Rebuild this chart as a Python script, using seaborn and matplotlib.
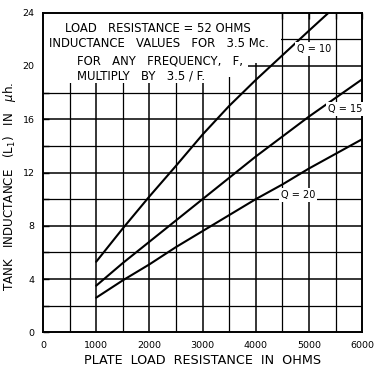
import numpy as np
import pandas as pd
import matplotlib
matplotlib.use("Agg")
import matplotlib.pyplot as plt
import seaborn as sns

# plate load resistance (ohms) and tank inductance (uH)
q10_x = [1000, 1500, 2000, 2500, 3000, 3500, 4000, 4500, 5000, 5370]
q10_y = [5.3, 7.8, 10.2, 12.5, 14.85, 17.0, 18.95, 20.8, 22.65, 24.0]
q15_x = [1000, 1500, 2000, 2500, 3000, 3500, 4000, 4500, 5000, 5500, 6000]
q15_y = [3.5, 5.2, 6.8, 8.4, 10.0, 11.6, 13.2, 14.7, 16.2, 17.6, 19.0]
q20_x = [1000, 1500, 2000, 2500, 3000, 3500, 4000, 4500, 5000, 5500, 6000]
q20_y = [2.6, 3.9, 5.1, 6.4, 7.6, 8.8, 10.0, 11.1, 12.3, 13.4, 14.5]

x_ticks = [0, 1000, 2000, 3000, 4000, 5000, 6000]
y_ticks = [0, 4, 8, 12, 16, 20, 24]

note_lines = ["LOAD   RESISTANCE = 52 OHMS",
              "INDUCTANCE   VALUES   FOR   3.5 Mc.",
              "FOR   ANY   FREQUENCY,   F,",
              "MULTIPLY   BY   3.5 / F."]

df = pd.concat([
    pd.DataFrame({"r": q10_x, "l": q10_y, "q": "Q = 10"}),
    pd.DataFrame({"r": q15_x, "l": q15_y, "q": "Q = 15"}),
    pd.DataFrame({"r": q20_x, "l": q20_y, "q": "Q = 20"}),
])

sns.set_theme(style="white")
plt.rcParams['font.family'] = ['DejaVu Sans']
plt.rcParams['text.color'] = 'black'
plt.rcParams['axes.labelcolor'] = 'black'
plt.rcParams['xtick.color'] = 'black'
plt.rcParams['ytick.color'] = 'black'

fig = plt.figure(figsize=(3.83, 3.74), dpi=100)
ax = fig.add_axes([0.1123, 0.1115, 0.8332, 0.8545])

# grid (drawn by hand so the note box can hide part of it)
for gx in np.arange(500, 6000, 500):
    ax.axvline(gx, color="black", lw=1.1 if gx % 1000 == 0 else 0.9, zorder=0.5)
for gy in np.arange(2, 24, 2):
    ax.axhline(gy, color="black", lw=1.1 if gy % 4 == 0 else 0.9, zorder=0.5)

# white area behind the note
box_x = [0, 3300, 3300, 3850, 3850, 4470, 4470, 0]
box_y = [18.7, 18.7, 19.2, 19.2, 20.2, 20.2, 24, 24]
ax.fill(box_x, box_y, color="white", zorder=0.8, lw=0)

sns.lineplot(data=df, x="r", y="l", hue="q", units="q", estimator=None,
             palette=["black"] * 3, lw=1.5, legend=False, ax=ax, zorder=2)

ax.set_xlim(0, 6000)
ax.set_ylim(0, 24)
ax.set_xticks(x_ticks)
ax.set_xticks(np.arange(500, 6000, 1000), minor=True)
ax.set_yticks(y_ticks)
ax.set_yticks(np.arange(2, 24, 4), minor=True)
ax.tick_params(axis="x", which="both", bottom=False, top=True, direction="in",
               length=4, width=1, labelsize=6.8, pad=6)
ax.tick_params(axis="y", which="both", left=True, direction="in",
               length=4, width=1, labelsize=6.8, pad=6)
for s in ax.spines.values():
    s.set_color("black")
    s.set_linewidth(1.4)

ax.set_xlabel("PLATE  LOAD  RESISTANCE  IN  OHMS", fontsize=9.2, labelpad=3)
ax.set_ylabel("")
fig.text(0.024, 0.503, "TANK   INDUCTANCE   (L$_1$)   IN   $\\mu$h.", rotation=90,
         fontsize=8.6, ha="center", va="center")

# note text
ax.text(412, 22.85, note_lines[0], fontsize=8.4, va="center", zorder=3)
ax.text(112, 21.7, note_lines[1], fontsize=8.4, va="center", zorder=3)
ax.text(640, 20.35, note_lines[2], fontsize=8.4, va="center", zorder=3)
ax.text(640, 19.25, note_lines[3], fontsize=8.4, va="center", zorder=3)

# curve labels
bb = dict(facecolor="white", edgecolor="none", pad=1.5)
ax.text(5090, 21.3, "Q = 10", fontsize=7, ha="center", va="center", bbox=bb, zorder=3)
ax.text(5690, 16.8, "Q = 15", fontsize=7, ha="center", va="center", bbox=bb, zorder=3)
ax.text(4790, 10.3, "Q = 20", fontsize=7, ha="center", va="center", bbox=bb, zorder=3)

fig.savefig("out.png", dpi=100)
